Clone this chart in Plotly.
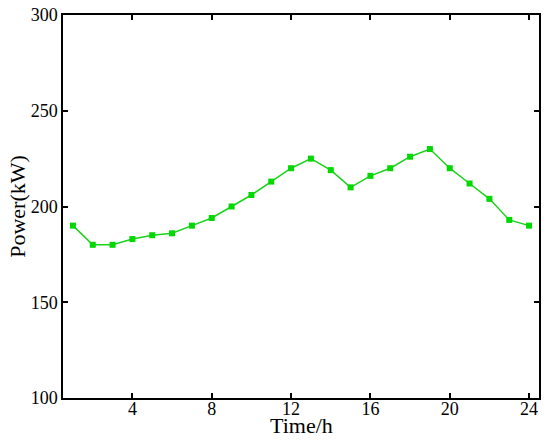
import plotly.graph_objects as go

hours = list(range(1, 25))
power = [190, 180, 180, 183, 185, 186, 190, 194, 200, 206, 213, 220,
         225, 219, 210, 216, 220, 226, 230, 220, 212, 204, 193, 190]

x_ticks = [4, 8, 12, 16, 20, 24]
y_ticks = [100, 150, 200, 250, 300]

fig = go.Figure()
fig.add_trace(go.Scatter(
    x=hours, y=power, mode="lines+markers",
    line=dict(color="#19d219", width=1.5),
    marker=dict(symbol="square", size=6, color="#00d800"),
    showlegend=False,
))

axis_style = dict(
    showline=True, linecolor="black", linewidth=1.5, mirror="ticks",
    ticks="inside", ticklen=5, tickwidth=1.5, tickcolor="black",
    showgrid=False, zeroline=False, automargin=False,
    tickfont=dict(family="Liberation Serif", size=18, color="black"),
)

fig.update_xaxes(range=[0.5, 24.5], tickvals=x_ticks, ticklabelstandoff=-6, **axis_style)
fig.update_yaxes(range=[100, 300], tickvals=y_ticks, **axis_style)

title_font = dict(family="Liberation Serif", size=22, color="black")
fig.add_annotation(text="Time/h", x=0.5, y=-0.071, xref="paper", yref="paper",
                   xanchor="center", yanchor="middle", showarrow=False, font=title_font)
fig.add_annotation(text="Power(kW)", x=-0.096, y=0.5, xref="paper", yref="paper",
                   xanchor="center", yanchor="middle", textangle=-90,
                   showarrow=False, font=title_font)

fig.update_layout(
    width=550, height=441,
    margin=dict(l=63, r=11, t=15, b=43),
    plot_bgcolor="white", paper_bgcolor="white",
)

# drop the default body margin so the figure sits at the window corner
fig.write_html("out.html", config={"displayModeBar": False},
               post_script="document.body.style.margin='0';")
